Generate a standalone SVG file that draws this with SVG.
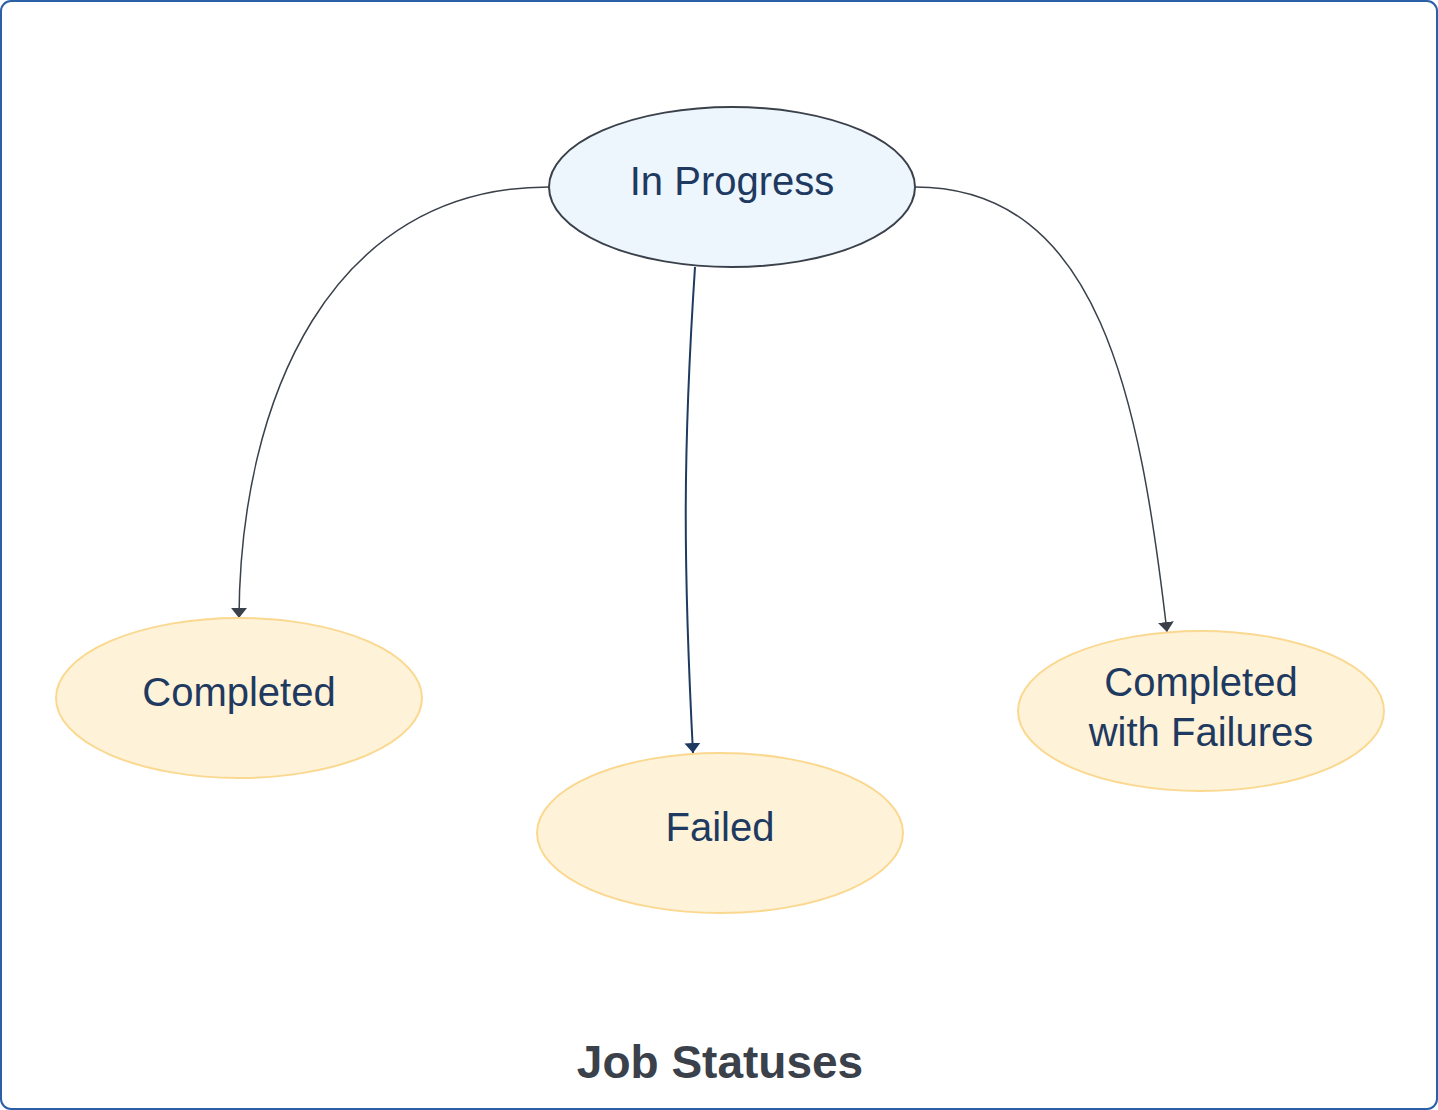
<svg xmlns="http://www.w3.org/2000/svg" width="1438" height="1110" viewBox="0 0 1438 1110">
<style>
.t{font-family:"Liberation Sans",Arial,sans-serif;font-size:40px;fill:#1f3a60;text-anchor:middle}
.y{fill:#fef2d9;stroke:#fbd88f;stroke-width:2}
.c{fill:none;stroke:#3a414a;stroke-width:2}
</style>
<defs>
<marker id="a" viewBox="0 0 10 10" refX="10" refY="5" markerWidth="10" markerHeight="16" markerUnits="userSpaceOnUse" orient="auto" preserveAspectRatio="none"><path d="M0,0L10,5L0,10z" fill="#3a414a"/></marker>
<marker id="b" viewBox="0 0 10 10" refX="10" refY="5" markerWidth="10" markerHeight="16" markerUnits="userSpaceOnUse" orient="auto" preserveAspectRatio="none"><path d="M0,0L10,5L0,10z" fill="#1f3a60"/></marker>
</defs>
<rect x="1" y="1" width="1436" height="1108" rx="10" fill="#fff" stroke="#2b5fa8" stroke-width="2"/>
<g id="connectors">
<path class="c" d="M549,187 C330,187 240,400 239,618" marker-end="url(#a)" style="stroke-width:1.5"/>
<path d="M695,267 C683,450 683,560 693,753" fill="none" stroke="#1f3a60" stroke-width="2" marker-end="url(#b)"/>
<path class="c" d="M915,187 C1100,187 1140,400 1167,632" marker-end="url(#a)" style="stroke-width:1.5"/>
</g>
<g id="inprogress"><ellipse cx="732" cy="187" rx="183" ry="80" fill="#edf5fd" stroke="#3a414a" stroke-width="2"/><text class="t" x="732" y="195">In Progress</text></g>
<g id="completed"><ellipse class="y" cx="239" cy="698" rx="183" ry="80"/><text class="t" x="239" y="706">Completed</text></g>
<g id="failed"><ellipse class="y" cx="720" cy="833" rx="183" ry="80"/><text class="t" x="720" y="841">Failed</text></g>
<g id="cwf"><ellipse class="y" cx="1201" cy="711" rx="183" ry="80"/><text class="t" x="1201" y="696">Completed</text><text class="t" x="1201" y="746">with Failures</text></g>
<text x="720" y="1078" style="font-family:'Liberation Sans',Arial,sans-serif;font-size:46px;font-weight:bold;fill:#3a414a;text-anchor:middle">Job Statuses</text>
</svg>
